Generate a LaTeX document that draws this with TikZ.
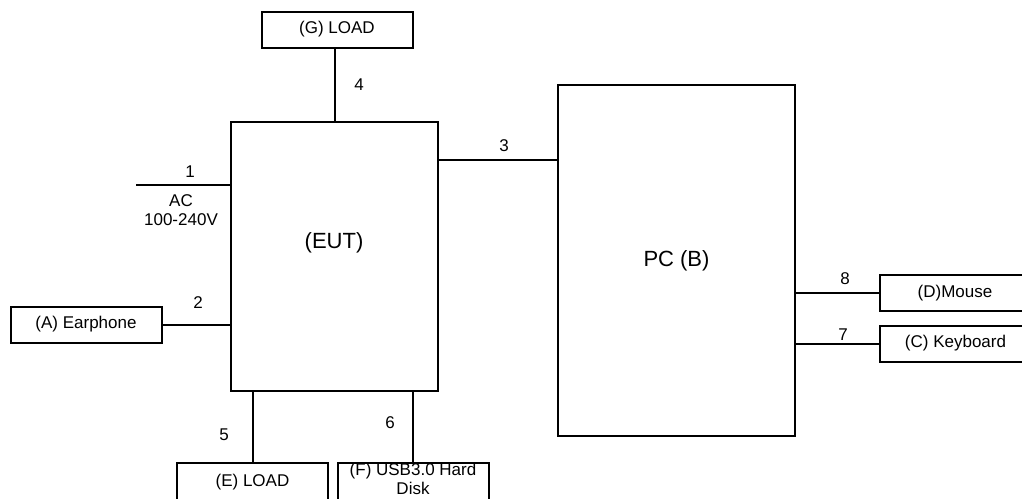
\documentclass[tikz,border=0pt]{standalone}
\usepackage{fontspec}
\setmainfont{Liberation Sans}
\usetikzlibrary{positioning}

\begin{document}
\begin{tikzpicture}[x=1pt,y=-1pt,line width=2pt,
  txt/.style={font=\fontsize{17}{18.5}\selectfont,inner sep=0pt},
  bigtxt/.style={font=\fontsize{22}{26}\selectfont,inner sep=0pt},
  unitbox/.style={draw,rectangle,inner sep=0pt,txt,minimum width=151pt,minimum height=36pt}]

\useasboundingbox (0,0) rectangle (1022,498);
\clip (0,0) rectangle (1022,498);

% Main units
\node[draw,inner sep=0pt,minimum width=207pt,minimum height=269pt] (eut) at (334.5,256.5) {};
\node[bigtxt] (euttxt) at (334,243) {(EUT)};
\node[draw,bigtxt,minimum width=237pt,minimum height=351pt] (pc) at (676.5,260.5) {PC (B)};

% Peripherals
\node[unitbox] (g) at (337,29.5) {(G) LOAD};
\node[unitbox] (a) at (86,324.5) {(A) Earphone};
\node[unitbox] (d) at (955,293) {(D)Mouse};
\node[unitbox] (c) at (955.5,343.5) {(C) Keyboard};
\node[unitbox,minimum height=38pt] (e) at (252.5,482) {(E) LOAD};
\node[unitbox,minimum height=38pt] (f) at (413,482) {};
\node[txt,align=center] (ftxt) at (413,479) {(F) USB3.0 Hard\\Disk};

% Cables
\coordinate (acin) at (136,185);
\draw (acin) -- (eut.west |- acin);
\draw (a.east) -- (eut.west |- a.east);
\draw (eut.north east |- 0,160) -- (pc.west |- 0,160);
\draw (eut.north) -- (eut.north |- g.south);
\draw (e.north) -- (e.north |- eut.south);
\draw (f.north) -- (f.north |- eut.south);
\draw (d.west) -- (pc.east |- d.west);
\draw (c.west) -- (pc.east |- c.west);

% Cable numbers
\node[txt] (l1) at (190,172) {1};
\node[txt] (l2) at (198,303) {2};
\node[txt] (l3) at (504,146) {3};
\node[txt] (l4) at (359,85) {4};
\node[txt] (l5) at (224,435) {5};
\node[txt] (l6) at (390,423) {6};
\node[txt] (l7) at (843,335) {7};
\node[txt] (l8) at (845,279) {8};
\node[txt,align=center] (ac) at (181,210) {AC\\100-240V};

\end{tikzpicture}
\end{document}
